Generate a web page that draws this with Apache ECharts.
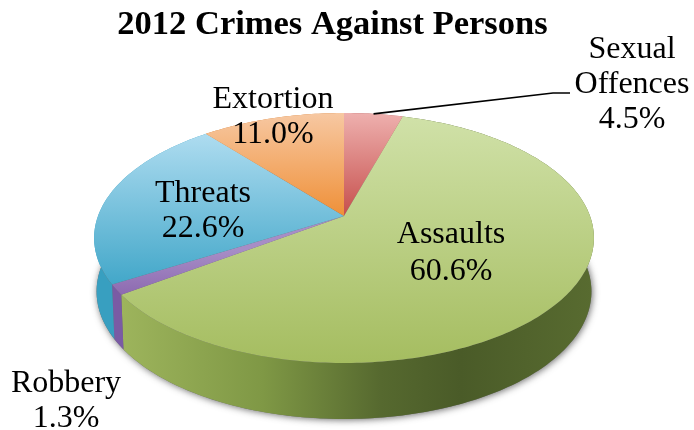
<!DOCTYPE html>
<html>
<head>
<meta charset="utf-8">
<style>html,body{margin:0;padding:0;background:#fff}#chart{width:694px;height:430px}</style>
<script src="https://cdn.jsdelivr.net/npm/echarts@6/dist/echarts.min.js"></script>
</head>
<body>
<div id="chart"></div>
<script>
// Crime shares, clockwise from twelve o'clock
const categories = ['Sexual Offences', 'Assaults', 'Robbery', 'Threats', 'Extortion'];
const shares = [4.5, 60.6, 1.3, 22.6, 11.0];
const labelNames = ['Sexual\nOffences', 'Assaults', 'Robbery', 'Threats', 'Extortion'];
const titleText = '2012 Crimes Against Persons';

const FONT = '"Liberation Serif", serif';
const total = shares.reduce((a, b) => a + b, 0);

// Tilted disc: perspective projection of the unit circle
const APEX = { x: 344, y: 216 };
const TILT = { a: 246, b: 121.1, p: 0.176 };

function rim(deg) {
  const t = deg * Math.PI / 180, u = Math.sin(t), v = Math.cos(t), w = 1 + TILT.p * v;
  return { x: APEX.x + TILT.a * u / w, y: APEX.y - TILT.b * v / w, v };
}
function lowerRim(deg) {
  const r = rim(deg);
  return { x: APEX.x + (r.x - APEX.x) * 0.99, y: r.y + 53 - 3 * r.v };
}
function arc(fn, from, to) {
  const pts = [], n = Math.max(2, Math.ceil(Math.abs(to - from)));
  for (let i = 0; i <= n; i++) {
    const p = fn(from + (to - from) * i / n);
    pts.push([p.x, p.y]);
  }
  return pts;
}
function sliceRange(index) {
  let sum = 0;
  for (let i = 0; i < index; i++) sum += shares[i];
  return [sum / total * 360, (sum + shares[index]) / total * 360];
}
function vertical(y1, y2, c1, c2) {
  return { type: 'linear', global: true, x: 0, y: y1, x2: 0, y2: y2,
    colorStops: [{ offset: 0, color: c1 }, { offset: 1, color: c2 }] };
}
function horizontal(x1, x2, stops) {
  return { type: 'linear', global: true, x: x1, y: 0, x2: x2, y2: 0,
    colorStops: stops.map(s => ({ offset: s[0], color: s[1] })) };
}

const topFill = [
  vertical(113, 216, '#eeb0ae', '#c64f4c'),
  vertical(117, 363, '#d0e1a8', '#a5bd60'),
  vertical(250, 300, '#a78dc6', '#8a66ae'),
  vertical(134, 296, '#aedcf0', '#3aa3c6'),
  vertical(113, 216, '#f7c8a2', '#ef9038')
];
const wallFill = [
  '#a84a48',
  horizontal(122, 592, [[0, '#9db45c'], [0.3, '#7f9845'], [0.55, '#56692f'], [0.72, '#4a5b28'], [1, '#586b30']]),
  '#7a5ba4',
  '#389fc0',
  '#d07a30'
];

// Text position and line height for each label
const labelPlace = [
  { x: 632, y: 85, lh: 35 },
  { x: 451, y: 253, lh: 37 },
  { x: 66, y: 401, lh: 35 },
  { x: 203, y: 211, lh: 35 },
  { x: 273, y: 117, lh: 35 }
];

const chart = echarts.init(document.getElementById('chart'), null, { renderer: 'canvas' });
chart.setOption({
  animation: false,
  backgroundColor: '#fff',
  title: {
    text: titleText, left: 327.5, top: 3, textAlign: 'center',
    textStyle: { fontFamily: FONT, fontWeight: 'bold', fontSize: 34.5, color: '#000' }
  },
  series: [
    {
      // soft shadow under the disc
      type: 'custom', coordinateSystem: 'none', z: 1, silent: true,
      data: [[total]],
      renderItem: () => ({
        type: 'polygon',
        shape: { points: arc(lowerRim, 0, 360) },
        style: { fill: '#6b6b6b', shadowBlur: 7, shadowColor: 'rgba(60,60,60,0.75)', shadowOffsetX: 1, shadowOffsetY: 1 }
      })
    },
    {
      // side wall
      type: 'custom', coordinateSystem: 'none', z: 2, silent: true,
      data: shares.map(v => [v]),
      renderItem: params => {
        const [a, b] = sliceRange(params.dataIndex);
        return {
          type: 'polygon',
          shape: { points: arc(rim, a, b).concat(arc(lowerRim, b, a)) },
          style: { fill: wallFill[params.dataIndex] }
        };
      }
    },
    {
      // top face
      type: 'custom', coordinateSystem: 'none', z: 3, silent: true,
      data: shares.map(v => [v]),
      renderItem: params => {
        const [a, b] = sliceRange(params.dataIndex);
        return {
          type: 'polygon',
          shape: { points: [[APEX.x, APEX.y]].concat(arc(rim, a, b)) },
          style: { fill: topFill[params.dataIndex] }
        };
      }
    },
    {
      // labels and the one leader line
      type: 'custom', coordinateSystem: 'none', z: 4, silent: true,
      data: shares.map(v => [v]),
      renderItem: (params, api) => {
        const i = params.dataIndex, place = labelPlace[i];
        const children = [{
          type: 'text',
          style: {
            x: place.x, y: place.y,
            text: labelNames[i] + '\n' + api.value(0).toFixed(1) + '%',
            align: 'center', verticalAlign: 'middle',
            font: '32px ' + FONT, lineHeight: place.lh, fill: '#000'
          }
        }];
        if (i === 0) {
          const [a, b] = sliceRange(0), m = rim((a + b) / 2);
          children.push({
            type: 'polyline',
            shape: { points: [[m.x, m.y], [553, 93], [570, 93]] },
            style: { fill: 'none', stroke: '#000', lineWidth: 1.6 }
          });
        }
        return { type: 'group', children };
      }
    }
  ]
});
</script>
</body>
</html>
